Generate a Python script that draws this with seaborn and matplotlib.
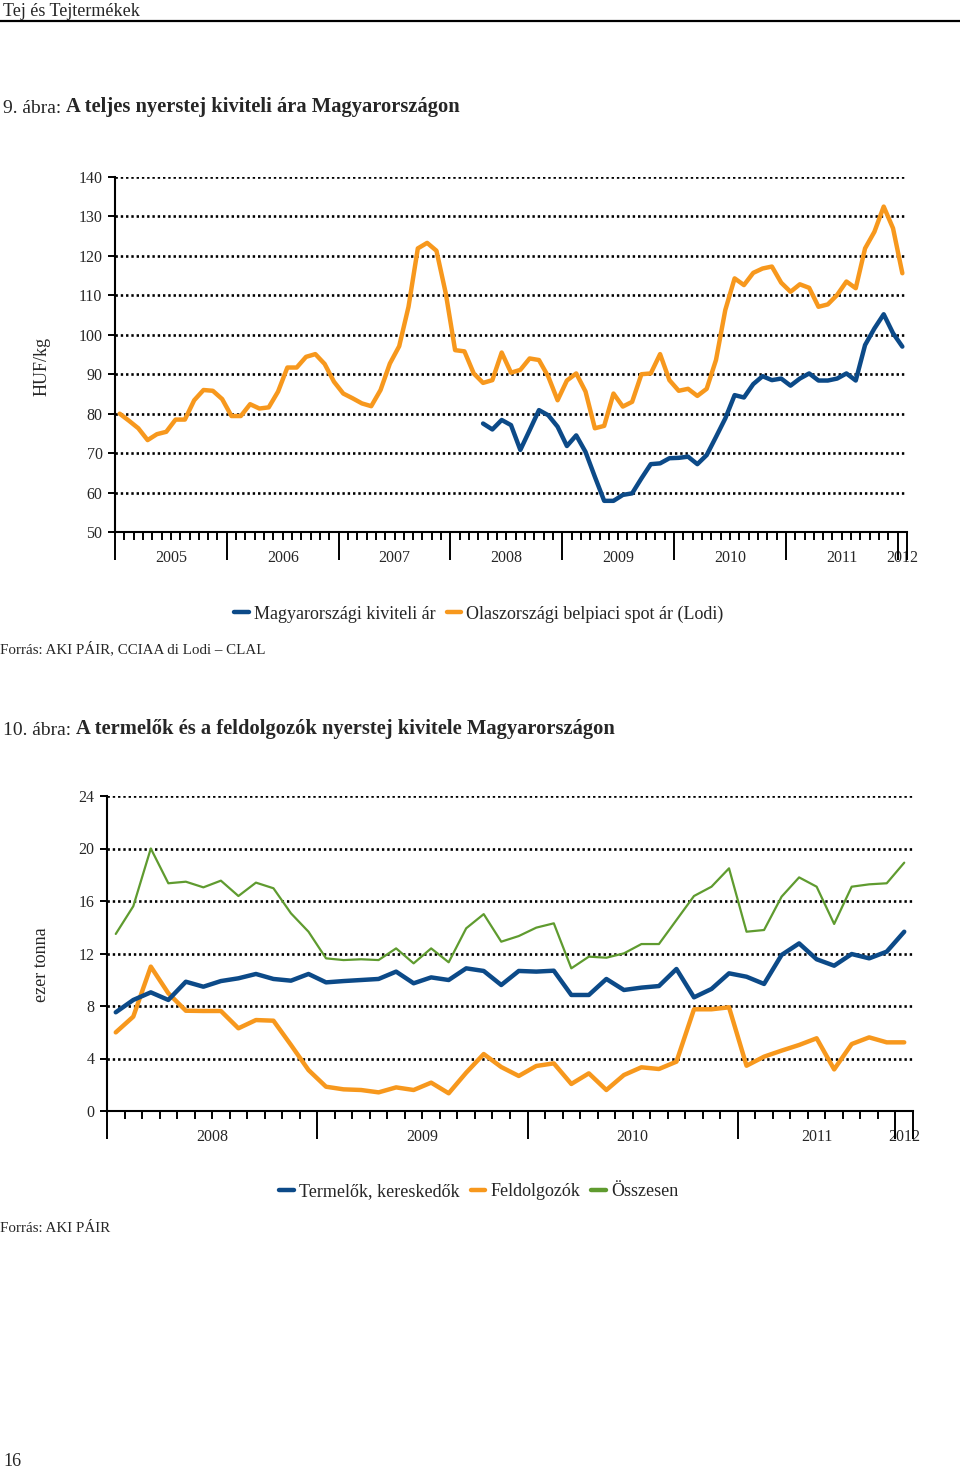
import matplotlib
matplotlib.use('Agg')
import numpy as np
import pandas as pd
import matplotlib.pyplot as plt
from matplotlib.lines import Line2D
import seaborn as sns

# 9. abra: havi adatok, 2005-01 .. 2012-01 (HUF/kg)
honapok1 = pd.period_range('2005-01', '2012-01', freq='M')
olasz = [80, 78.2, 76.3, 73.3, 74.8, 75.4, 78.5, 78.5, 83.4, 86.0, 85.8, 83.7,
         79.4, 79.4, 82.4, 81.3, 81.6, 85.6, 91.7, 91.7, 94.4, 95.1, 92.6, 88.1,
         85.1, 83.9, 82.6, 81.9, 86.0, 92.7, 97.1, 107.1, 121.9, 123.3, 121.3, 110.5,
         96.1, 95.8, 90.2, 87.8, 88.5, 95.5, 90.4, 91.1, 94.0, 93.6, 89.4, 83.4,
         88.4, 90.2, 85.6, 76.3, 76.9, 85.1, 81.8, 83.0, 90.0, 90.2, 95.1, 88.5,
         85.8, 86.3, 84.5, 86.3, 93.6, 106.3, 114.3, 112.6, 115.7, 116.8, 117.3, 113.2,
         110.9, 112.8, 111.9, 107.1, 107.7, 110.1, 113.5, 111.8, 121.9, 126.1, 132.5, 127.0,
         115.6]
magyar_kezdet = '2008-04'
magyar = [77.5, 76.0, 78.4, 77.1, 70.8, 75.8, 80.9, 79.6, 76.7,
          71.8, 74.5, 70.3, 64.0, 57.9, 57.9, 59.4, 59.8, 63.6, 67.2, 67.4, 68.7,
          68.8, 69.1, 67.2, 69.5, 74.1, 78.8, 84.7, 84.1, 87.5, 89.5, 88.5, 88.9,
          87.1, 88.9, 90.2, 88.4, 88.4, 88.9, 90.2, 88.4, 97.4, 101.6, 105.2, 100.4,
          97.0]

# 10. abra: ezer tonna
evek2 = [2008] * 12 + [2009] * 12 + [2010] * 12 + [2011] * 9 + [2012]
termelok = [7.52, 8.46, 9.04, 8.46, 9.85, 9.47, 9.9, 10.11, 10.44, 10.06, 9.93, 10.44,
            9.8, 9.9, 9.98, 10.06, 10.62, 9.73, 10.18, 9.98, 10.87, 10.67, 9.6, 10.67,
            10.62, 10.69, 8.84, 8.84, 10.06, 9.22, 9.4, 9.52, 10.82, 8.66, 9.3, 10.49,
            10.23, 9.68, 11.89, 12.77, 11.56, 11.07, 11.96, 11.63, 12.14, 13.66]
feldolgozok = [5.99, 7.19, 11.0, 8.97, 7.64, 7.62, 7.62, 6.3, 6.93, 6.88, 5.03, 3.12,
               1.85, 1.65, 1.6, 1.42, 1.8, 1.6, 2.16, 1.35, 2.92, 4.34, 3.35, 2.67,
               3.43, 3.63, 2.06, 2.87, 1.6, 2.74, 3.33, 3.2, 3.76, 7.75, 7.75, 7.9,
               3.45, 4.14, 4.6, 5.03, 5.54, 3.17, 5.1, 5.61, 5.23, 5.23]
osszesen = [13.49, 15.6, 20.0, 17.35, 17.47, 17.04, 17.55, 16.38, 17.4, 16.97, 15.06, 13.66,
            11.63, 11.5, 11.56, 11.5, 12.39, 11.25, 12.39, 11.33, 13.92, 15.0, 12.9, 13.33,
            13.97, 14.3, 10.87, 11.76, 11.68, 12.01, 12.72, 12.72, 14.55, 16.38, 17.09, 18.49,
            13.66, 13.79, 16.33, 17.8, 17.09, 14.25, 17.09, 17.27, 17.35, 18.92]

KEK = '#0c4a88'
NARANCS = '#f7981d'
ZOLD = '#5f9b2f'

sns.set_style('white')
plt.rcParams['font.family'] = ['Liberation Serif', 'DejaVu Serif']

W, H = 960, 1469
fig = plt.figure(figsize=(W / 100, H / 100), dpi=100)


def px(x, y):
    return x / W, 1 - y / H


def tengely(ax, evek, ymin, ymax, ystep):
    n = len(evek)
    ev = np.array(evek)
    ax.set_xlim(-0.5, n - 0.5)
    ax.set_ylim(ymin, ymax)
    ax.set_yticks(np.arange(ymin, ymax + 1, ystep))
    hatar = [-0.5] + [i - 0.5 for i in range(1, n) if ev[i] != ev[i - 1]] + [n - 0.5]
    ax.set_xticks(hatar, labels=[])
    ax.set_xticks(np.arange(-0.5, n), minor=True)
    ax.tick_params(axis='x', which='major', length=20, width=1.4, color='black', bottom=True)
    ax.tick_params(axis='x', which='minor', length=6, width=1.4, color='black', bottom=True)
    ax.tick_params(axis='y', length=5, width=1.4, color='black', labelsize=11.5, pad=4, left=True)
    kozep = [(a + b) / 2 for a, b in zip(hatar[:-1], hatar[1:])]
    sec = ax.secondary_xaxis('bottom')
    sec.set_xticks(kozep, labels=[str(e) for e in pd.unique(ev)])
    sec.tick_params(length=0, pad=13, labelsize=11.5)
    sec.spines['bottom'].set_visible(False)
    ax.grid(axis='y', color='black', linestyle=(0, (0.9, 1.1)), linewidth=1.9)
    ax.grid(axis='x', visible=False)
    for s in ['top', 'right']:
        ax.spines[s].set_visible(False)
    for s in ['left', 'bottom']:
        ax.spines[s].set_color('black')
        ax.spines[s].set_linewidth(1.5)
    ax.set_xlabel('')
    ax.set_ylabel('')


def cim(y, szam, szoveg):
    t = fig.text(*px(3, y), szam, fontsize=14, va='baseline')
    plt.annotate(szoveg, xy=(1, 0), xycoords=t, va='bottom', ha='left',
                 fontsize=14.8, fontweight='bold', annotation_clip=False)


# fejlec
fig.text(*px(3, 16), 'Tej és Tejtermékek', fontsize=13, va='baseline')
fig.add_artist(Line2D([0, 1], [1 - 20.5 / H] * 2, color='black', linewidth=1.6))

# ---- 9. abra ----
ax1 = fig.add_axes([115 / W, 1 - 532 / H, 792 / W, 355 / H])
df1 = pd.DataFrame({'honap': honapok1.astype(str), 'i': np.arange(len(honapok1)),
                    'olasz': olasz})
df1['magyar'] = np.nan
kezd = list(df1['honap']).index(magyar_kezdet)
df1.loc[kezd:kezd + len(magyar) - 1, 'magyar'] = magyar
sns.lineplot(data=df1, x='i', y='olasz', ax=ax1, color=NARANCS, linewidth=3.2, legend=False)
sns.lineplot(data=df1.dropna(), x='i', y='magyar', ax=ax1, color=KEK, linewidth=3.2, legend=False)
tengely(ax1, [h.year for h in honapok1], 50, 140, 10)
fig.text(*px(42, 366), 'HUF/kg', rotation=90, ha='center', va='center', fontsize=13)

ax1.legend(handles=[Line2D([], [], color=KEK, linewidth=3.2),
                    Line2D([], [], color=NARANCS, linewidth=3.2)],
           labels=['Magyarországi kiviteli ár', 'Olaszországi belpiaci spot ár (Lodi)'],
           loc='center', bbox_to_anchor=px(479, 614), bbox_transform=fig.transFigure,
           ncol=2, frameon=False, fontsize=13, handlelength=0.8, handletextpad=0.3,
           columnspacing=0.6)
fig.text(*px(0, 653), 'Forrás: AKI PÁIR, CCIAA di Lodi – CLAL', fontsize=10.8, va='baseline')

# ---- 10. abra ----
ax2 = fig.add_axes([107 / W, 1 - 1111 / H, 806 / W, 315 / H])
df2 = pd.DataFrame({'i': np.arange(len(evek2)), 'ev': evek2, 'termelok': termelok,
                    'feldolgozok': feldolgozok, 'osszesen': osszesen})
sns.lineplot(data=df2, x='i', y='osszesen', ax=ax2, color=ZOLD, linewidth=1.6, legend=False)
sns.lineplot(data=df2, x='i', y='feldolgozok', ax=ax2, color=NARANCS, linewidth=3.2, legend=False)
sns.lineplot(data=df2, x='i', y='termelok', ax=ax2, color=KEK, linewidth=3.2, legend=False)
tengely(ax2, evek2, 0, 24, 4)
fig.text(*px(42, 965), 'ezer tonna', rotation=90, ha='center', va='center', fontsize=13)

ax2.legend(handles=[Line2D([], [], color=KEK, linewidth=3.2),
                    Line2D([], [], color=NARANCS, linewidth=3.2),
                    Line2D([], [], color=ZOLD, linewidth=3.2)],
           labels=['Termelők, kereskedők', 'Feldolgozók', 'Összesen'],
           loc='center', bbox_to_anchor=px(479, 1192), bbox_transform=fig.transFigure,
           ncol=3, frameon=False, fontsize=13, handlelength=0.8, handletextpad=0.3,
           columnspacing=0.6)
fig.text(*px(0, 1232), 'Forrás: AKI PÁIR', fontsize=10.8, va='baseline')

cim(113, '9. ábra: ', 'A teljes nyerstej kiviteli ára Magyarországon')
cim(735, '10. ábra: ', 'A termelők és a feldolgozók nyerstej kivitele Magyarországon')

fig.text(*px(3, 1466), '16', fontsize=13, va='baseline')

fig.savefig('out.png', dpi=100)
